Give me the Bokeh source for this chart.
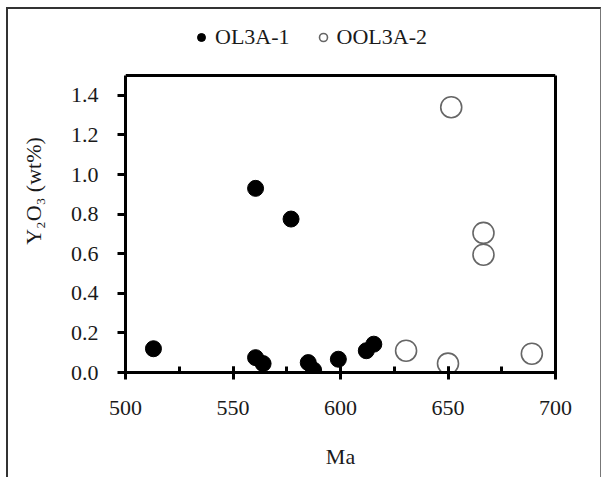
from bokeh.plotting import figure
from bokeh.models import (Range1d, SingleIntervalTicker, Legend, LegendItem,
                          ColumnDataSource, PrintfTickFormatter, LinearAxis,
                          FixedTicker, Span)
from bokeh.embed import file_html
from bokeh.resources import INLINE

# ---- data ----
ol_age = [513, 560.5, 577, 560.5, 564, 585, 587.5, 599, 612, 615.5]
ol_y2o3 = [0.12, 0.93, 0.775, 0.075, 0.045, 0.05, 0.012, 0.067, 0.11, 0.143]
ool_age = [630.5, 650, 689, 651.5, 666.5, 666.5]
ool_y2o3 = [0.11, 0.045, 0.095, 1.34, 0.705, 0.595]
series_names = ["OL3A-1", "OOL3A-2"]
x_label = "Ma"
y_label = "Y\u2082O\u2083 (wt%)"
y_axis_max = 1.5

FONT = "'Liberation Serif', 'Times New Roman', serif"
TXT = "#1a1a1a"

# frame extends above the drawn box so the legend can sit above it
p = figure(width=595, height=470, output_backend="svg", toolbar_location=None,
           x_range=Range1d(500, 700), y_range=Range1d(0, 363 / 198.0),
           min_border_left=117, min_border_right=48,
           min_border_top=0, min_border_bottom=107)
p.styles = {"margin-left": "6px", "margin-top": "7px",
            "border-left": "2px solid #333", "border-top": "2px solid #333",
            "border-right": "1px solid #777"}

p.xgrid.visible = False
p.ygrid.visible = False
p.background_fill_color = "white"
p.border_fill_color = "white"
p.outline_line_color = None

ol_src = ColumnDataSource(dict(x=ol_age, y=ol_y2o3))
ool_src = ColumnDataSource(dict(x=ool_age, y=ool_y2o3))

r1 = p.scatter("x", "y", source=ol_src, size=16, fill_color="black",
               line_color="black")
r2 = p.scatter("x", "y", source=ool_src, size=21, fill_color=None,
               line_color="#666666", line_width=1.6)

# x axis
xa = p.xaxis[0]
xa.ticker = SingleIntervalTicker(interval=50, num_minor_ticks=2)
xa.axis_line_width = 3
xa.axis_line_color = "black"
xa.major_tick_line_width = 3
xa.minor_tick_line_width = 3
xa.major_tick_in = 6
xa.major_tick_out = 7
xa.minor_tick_in = 6
xa.minor_tick_out = 0
xa.major_label_text_font = FONT
xa.major_label_text_font_size = "22px"
xa.major_label_text_color = TXT
xa.major_label_standoff = 21
xa.axis_label = x_label
xa.axis_label_text_font = FONT
xa.axis_label_text_font_size = "22px"
xa.axis_label_text_font_style = "normal"
xa.axis_label_text_color = TXT
xa.axis_label_standoff = 26

# y axis
ya = p.yaxis[0]
ya.bounds = (0, y_axis_max)
ya.ticker = SingleIntervalTicker(interval=0.2, num_minor_ticks=0)
ya.formatter = PrintfTickFormatter(format="%.1f")
ya.axis_line_width = 3
ya.axis_line_color = "black"
ya.major_tick_line_width = 3
ya.major_tick_in = 0
ya.major_tick_out = 8
ya.minor_tick_line_color = None
ya.major_label_text_font = FONT
ya.major_label_text_font_size = "22px"
ya.major_label_text_color = TXT
ya.major_label_standoff = 19
ya.axis_label = y_label
ya.axis_label_text_font = FONT
ya.axis_label_text_font_size = "22px"
ya.axis_label_text_font_style = "normal"
ya.axis_label_text_color = TXT
ya.axis_label_standoff = 22

# right edge of the box
ra = LinearAxis(bounds=(0, y_axis_max), ticker=FixedTicker(ticks=[]),
                axis_line_width=3, axis_line_color="black",
                major_tick_line_color=None, minor_tick_line_color=None)
p.add_layout(ra, "right")
# top edge of the box
p.add_layout(Span(location=y_axis_max, dimension="width",
                  line_color="black", line_width=3))

legend = Legend(items=[LegendItem(label=series_names[0], renderers=[r1]),
                       LegendItem(label=series_names[1], renderers=[r2])],
                orientation="horizontal", location=(66, 322),
                label_text_font=FONT, label_text_font_size="22px",
                label_text_color=TXT, glyph_width=20, glyph_height=24,
                label_standoff=4, spacing=23, padding=0, margin=0,
                border_line_color=None, background_fill_alpha=0)
p.add_layout(legend, "center")

open("out.html", "w").write(file_html(p, INLINE))
